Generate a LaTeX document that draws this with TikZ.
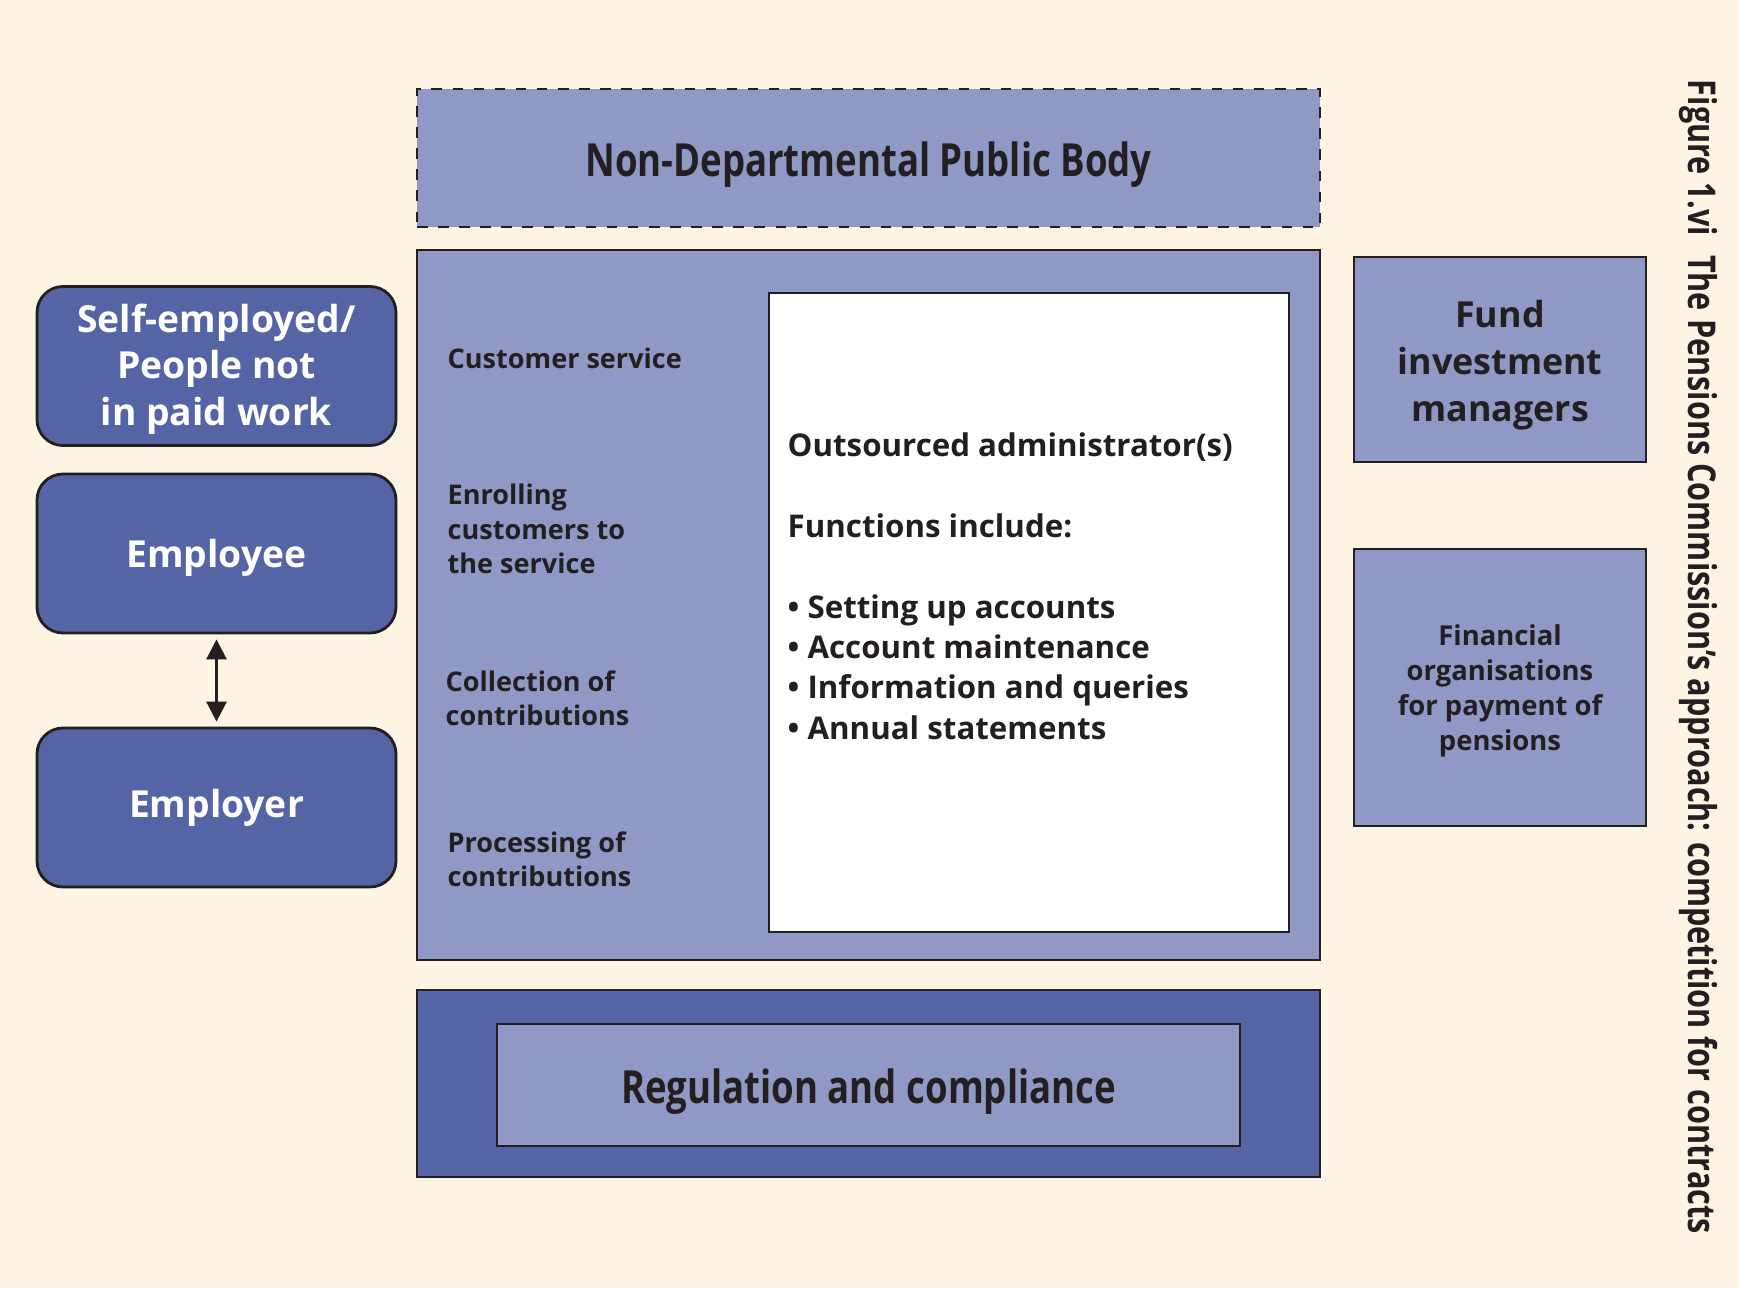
\documentclass[tikz,border=0pt]{standalone}
\usepackage{fontspec}
\setmainfont{Open Sans}
\newfontfamily\condfont[FakeStretch=0.8]{Open Sans}
\usepackage{tikz}
\usetikzlibrary{arrows.meta,positioning,calc}
\usepackage{xcolor}
\definecolor{cream}{RGB}{254,244,228}
\definecolor{lightpurple}{RGB}{144,152,197}
\definecolor{darkblue}{RGB}{84,100,165}
\definecolor{inkgray}{RGB}{35,31,32}
\newcommand{\dropby}[2]{\raisebox{-#1}[\height][\depth]{#2}}

\begin{document}
\begin{tikzpicture}[
    box/.style={draw=inkgray,line width=0.8pt,fill=lightpurple,text=inkgray,font=\bfseries,inner sep=0pt},
    party/.style={draw=inkgray,line width=0.8pt,rounded corners=2.6mm,fill=darkblue,text=white,
      font=\fontsize{10.6}{13.3}\selectfont\bfseries,align=center,minimum width=3.59cm,minimum height=1.59cm},
    task/.style={anchor=west,align=left,inner sep=0pt,text=inkgray,font=\fontsize{7.7}{9.8}\selectfont\bfseries}]
    \fill[cream] (0,0) rectangle (17.39,-12.88);
    \node[box,dashed,minimum width=9.03cm,minimum height=1.38cm,font=\condfont\fontsize{13}{15}\selectfont\bfseries] (ndpb) at (8.685,-1.58) {\dropby{0.7mm}{Non-Departmental Public Body}};
    \node[box,minimum width=9.03cm,minimum height=7.10cm] (scheme) at (8.685,-6.05) {};
    \node[box,fill=white,minimum width=5.20cm,minimum height=6.39cm] (admin) at (10.29,-6.125) {};
    \node[anchor=north west,align=left,inner sep=0pt,text=inkgray,font=\fontsize{8.9}{11.5}\selectfont\bfseries] (functions) at (7.87,-4.32)
      {Outsourced administrator(s)\\[11.5pt]Functions include:\\[11.5pt]\textbullet\ Setting up accounts\\\textbullet\ Account maintenance\\\textbullet\ Information and queries\\\textbullet\ Annual statements};
    \node[task] (custserv) at (4.47,-3.58) {Customer service};
    \node[task] (enrol) at (4.47,-5.29) {Enrolling\\customers to\\the service};
    \node[task] (collect) at (4.45,-6.98) {Collection of\\contributions};
    \node[task] (process) at (4.47,-8.59) {Processing of\\contributions};
    \node[box,fill=darkblue,minimum width=9.03cm,minimum height=1.87cm] (regframe) at (8.685,-10.835) {};
    \node[box,minimum width=7.43cm,minimum height=1.22cm,font=\condfont\fontsize{13}{15}\selectfont\bfseries] (reg) at (8.685,-10.85) {\dropby{0.7mm}{Regulation and compliance}};
    \node[party] (selfemp) at (2.165,-3.66) {\dropby{0.3mm}{\parbox{3.2cm}{\centering Self-employed/\\People not\\in paid work}}};
    \node[party] (employee) at (2.165,-5.535) {\dropby{0.45mm}{Employee}};
    \node[party] (employer) at (2.165,-8.075) {Employer};
    \draw[{Triangle[length=2mm,width=2mm]}-{Triangle[length=2mm,width=2mm]},line width=0.8pt,inkgray,shorten <=0.5mm,shorten >=0.5mm] (employee) -- (employer);
    \node[box,align=center,minimum width=2.92cm,minimum height=2.05cm,font=\fontsize{10.2}{13.3}\selectfont\bfseries] (fund) at (15.0,-3.595) {\dropby{0.55mm}{\parbox{2.8cm}{\centering Fund\\investment\\managers}}};
    \node[box,align=center,minimum width=2.92cm,minimum height=2.77cm,font=\fontsize{7.8}{10}\selectfont\bfseries] (payout) at (15.0,-6.875) {\dropby{0.35mm}{\parbox{2.8cm}{\centering Financial\\organisations\\for payment of\\pensions}}};
    \node[rotate=-90,text=inkgray,font=\condfont\fontsize{10.9}{13}\selectfont\bfseries] (caption) at (16.99,-6.57) {Figure 1.vi\enspace The Pensions Commission’s approach: competition for contracts};
  \end{tikzpicture}
\end{document}
